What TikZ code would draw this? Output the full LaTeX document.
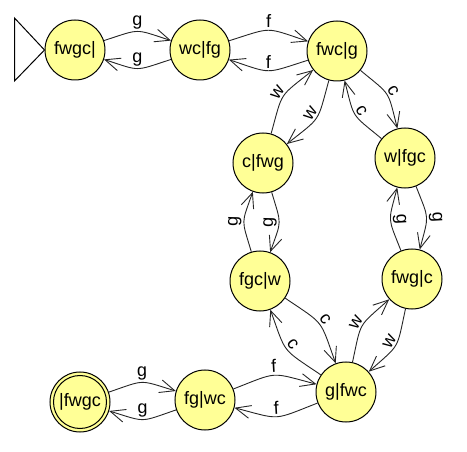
\documentclass[tikz,border=0pt]{standalone}
\usepackage{fontspec}
\setmainfont{Liberation Sans}
\usetikzlibrary{arrows.meta}
\definecolor{statefill}{RGB}{255,255,150}
\begin{document}
\begin{tikzpicture}[x=1pt,y=-1pt,
  state/.style={circle,draw=black,fill=statefill,line width=1pt,minimum size=60pt,inner sep=0pt,font=\fontsize{18}{20}\selectfont},
  trans/.style={draw=black!85,line width=0.9pt,-{Straight Barb[length=15pt,width=13pt]},bend left=18,looseness=1.5},
  lbl/.style={auto,sloped,inner sep=2pt,font=\fontsize{18}{20}\selectfont}]
\useasboundingbox (0,0) rectangle (467,452);
\node[state] (A) at (75,50) {fwgc|};
\node[state] (B) at (200,50) {wc|fg};
\node[state] (C) at (337,51) {fwc|g};
\node[state] (D) at (263,163) {c|fwg};
\node[state] (E) at (405,158) {w|fgc};
\node[state] (F) at (260,281) {fgc|w};
\node[state] (G) at (412,279) {fwg|c};
\node[state] (H) at (346,392) {g|fwc};
\node[state] (I) at (205,400) {fg|wc};
\node[state] (J) at (80,402) {|fwgc};
\draw[line width=1pt] (J) circle[radius=26.5];
\draw[line width=1pt] (A.west) -- ++(-30,-32) -- ++(0,63) -- cycle;
\draw[trans] (A) to node[lbl]{g} (B);
\draw[trans] (B) to node[lbl]{g} (A);
\draw[trans] (B) to node[lbl]{f} (C);
\draw[trans] (C) to node[lbl]{f} (B);
\draw[trans] (D) to node[lbl]{w} (C);
\draw[trans] (C) to node[lbl]{w} (D);
\draw[trans] (C) to node[lbl]{c} (E);
\draw[trans] (E) to node[lbl]{c} (C);
\draw[trans] (D) to node[lbl]{g} (F);
\draw[trans] (F) to node[lbl]{g} (D);
\draw[trans] (E) to node[lbl]{g} (G);
\draw[trans] (G) to node[lbl]{g} (E);
\draw[trans] (F) to node[lbl]{c} (H);
\draw[trans] (H) to node[lbl]{c} (F);
\draw[trans] (H) to node[lbl]{w} (G);
\draw[trans] (G) to node[lbl]{w} (H);
\draw[trans] (I) to node[lbl]{f} (H);
\draw[trans] (H) to node[lbl]{f} (I);
\draw[trans] (J) to node[lbl]{g} (I);
\draw[trans] (I) to node[lbl]{g} (J);
\end{tikzpicture}
\end{document}
